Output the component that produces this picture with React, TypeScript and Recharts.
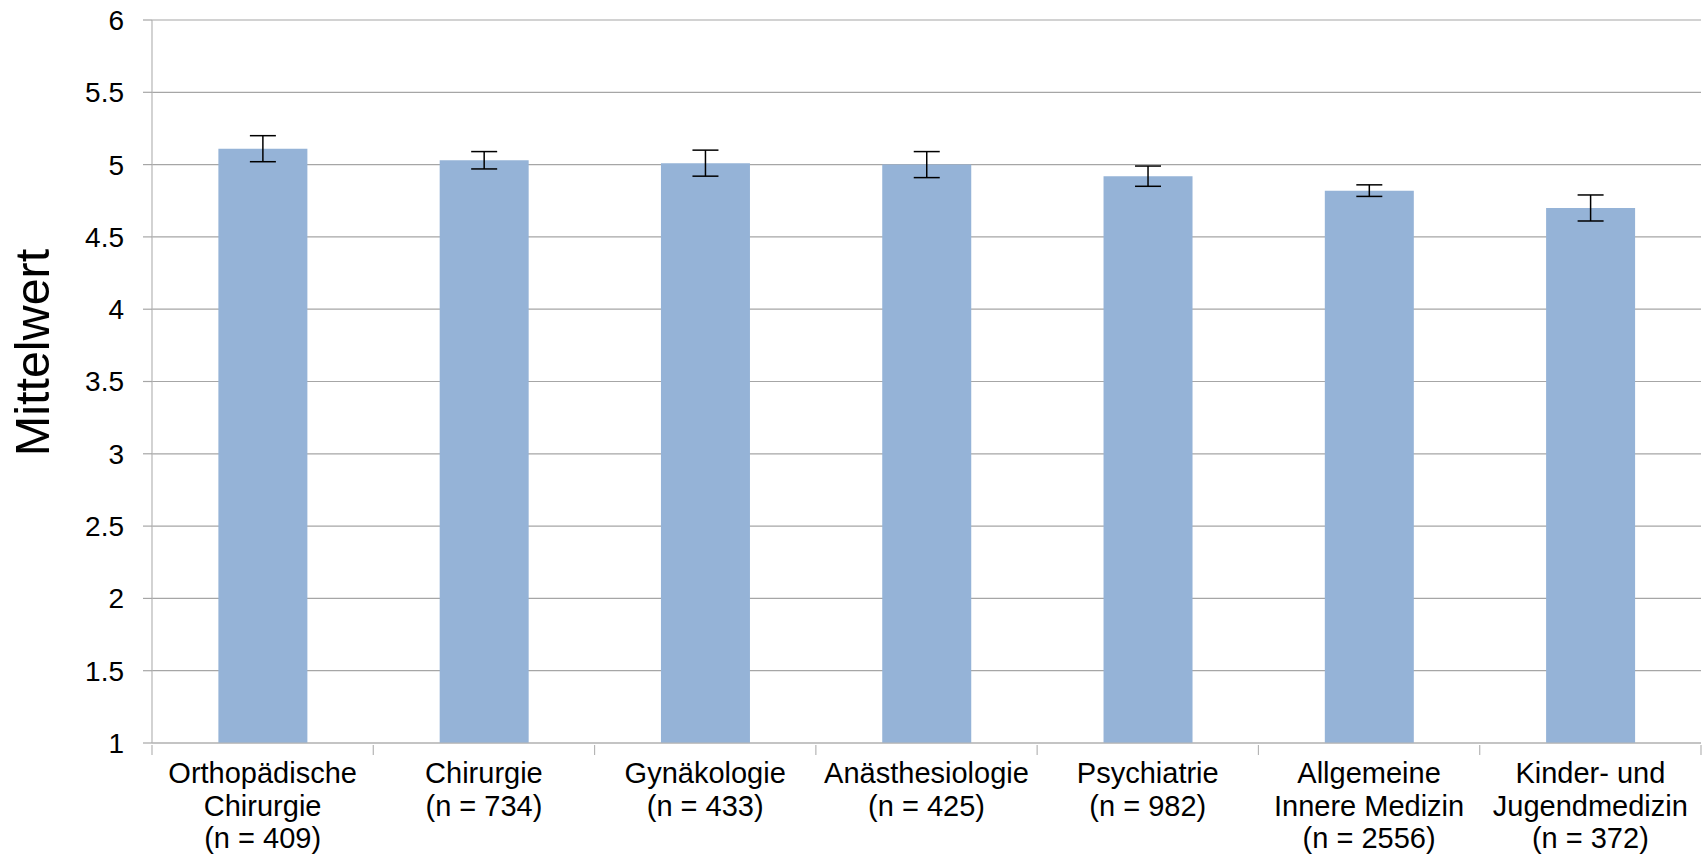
import React from 'react';
import { BarChart, Bar, XAxis, YAxis, CartesianGrid, ErrorBar } from 'recharts';

const categories = [
    'Orthopädische Chirurgie',
    'Chirurgie',
    'Gynäkologie',
    'Anästhesiologie',
    'Psychiatrie',
    'Allgemeine Innere Medizin',
    'Kinder- und Jugendmedizin',
];

const labelLines = [
    ['Orthopädische', 'Chirurgie', '(n = 409)'],
    ['Chirurgie', '(n = 734)'],
    ['Gynäkologie', '(n = 433)'],
    ['Anästhesiologie', '(n = 425)'],
    ['Psychiatrie', '(n = 982)'],
    ['Allgemeine', 'Innere Medizin', '(n = 2556)'],
    ['Kinder- und', 'Jugendmedizin', '(n = 372)'],
];

const means = [5.11, 5.03, 5.01, 5.0, 4.92, 4.82, 4.7];
const errors = [0.09, 0.06, 0.09, 0.09, 0.07, 0.04, 0.09];

const yTicks = [1, 1.5, 2, 2.5, 3, 3.5, 4, 4.5, 5, 5.5, 6];

const data = categories.map((name, i) => ({ name, mean: means[i], err: errors[i] }));

const FONT = '"Liberation Sans", Arial, sans-serif';
const AXIS_GREY = '#b5b5b5';

if (typeof document !== 'undefined') {
    document.body.style.margin = '0';
}

// category label + tick marks at the band edges (Excel style)
function CategoryTick({ x, y, payload, index, visibleTicksCount }: any) {
    const idx = categories.indexOf(payload.value);
    const lines = labelLines[idx] || [payload.value];
    const half = payload.offset || 0;
    const isLast = index === (visibleTicksCount ?? categories.length) - 1 || idx === categories.length - 1;
    return (
        <g>
            {half > 0 && (
                <line x1={x - half} x2={x - half} y1={y} y2={y + 10} stroke={AXIS_GREY} strokeWidth={1.2} />
            )}
            {half > 0 && isLast && (
                <line x1={x + half} x2={x + half} y1={y} y2={y + 10} stroke={AXIS_GREY} strokeWidth={1.2} />
            )}
            <text x={x} y={y} textAnchor="middle" fill="#000" fontSize={29} fontFamily={FONT}>
                {lines.map((line, i) => (
                    <tspan key={i} x={x} y={y + 38 + i * 32.5}>
                        {line}
                    </tspan>
                ))}
            </text>
        </g>
    );
}

function YLabel({ viewBox }: any) {
    const cx = 32;
    const cy = viewBox.y + viewBox.height / 2 - 29;
    return (
        <text
            x={cx}
            y={cy}
            transform={`rotate(-90, ${cx}, ${cy})`}
            textAnchor="middle"
            dominantBaseline="central"
            fontSize={48.5}
            fontFamily={FONT}
            fill="#000"
        >
            Mittelwert
        </text>
    );
}

export default function App() {
    return (
        <div style={{ width: 1703, height: 861, background: '#fff' }}>
            <BarChart
                width={1703}
                height={861}
                data={data}
                margin={{ top: 20, right: 2, left: 0, bottom: 0 }}
                barCategoryGap="30%"
            >
                <CartesianGrid horizontal vertical={false} stroke="#a6a6a6" strokeWidth={1.2} />
                <XAxis
                    dataKey="name"
                    tick={<CategoryTick />}
                    tickLine={false}
                    tickSize={0}
                    axisLine={{ stroke: AXIS_GREY, strokeWidth: 1.2 }}
                    interval={0}
                    height={118}
                />
                <YAxis
                    width={152}
                    domain={[1, 6]}
                    ticks={yTicks}
                    interval={0}
                    tick={{ fill: '#000', fontSize: 28, fontFamily: FONT }}
                    tickLine={{ stroke: '#a6a6a6', strokeWidth: 1.2 }}
                    tickSize={9}
                    tickMargin={19}
                    axisLine={{ stroke: AXIS_GREY, strokeWidth: 1.2 }}
                    allowDataOverflow
                    label={<YLabel />}
                />
                <Bar dataKey="mean" fill="#95b3d7" isAnimationActive={false}>
                    <ErrorBar dataKey="err" width={13} stroke="#000" strokeWidth={1.5} />
                </Bar>
            </BarChart>
        </div>
    );
}
